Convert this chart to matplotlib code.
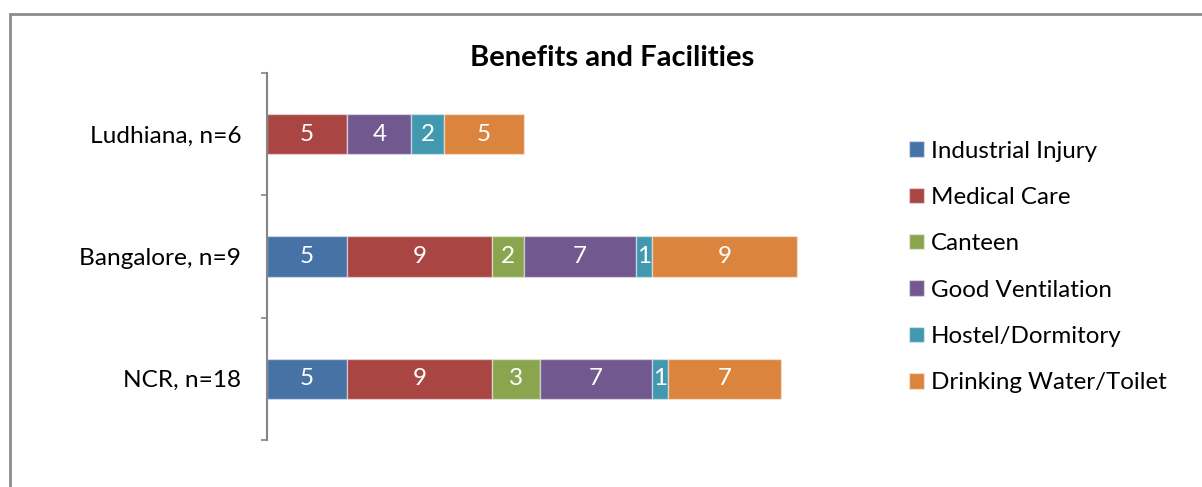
import numpy as np
import matplotlib
matplotlib.use('Agg')
import matplotlib.pyplot as plt
from matplotlib.patches import Rectangle

plt.rcParams['font.family'] = ['Lato', 'DejaVu Sans']

# cities, top to bottom
cities = ['Ludhiana, n=6', 'Bangalore, n=9', 'NCR, n=18']
facilities = ['Industrial Injury', 'Medical Care', 'Canteen',
              'Good Ventilation', 'Hostel/Dormitory', 'Drinking Water/Toilet']
industrial_injury = [0, 5, 5]
medical_care = [5, 9, 9]
canteen = [0, 2, 3]
good_ventilation = [4, 7, 7]
hostel = [2, 1, 1]
drinking_water = [5, 9, 7]
colors = ['#4672A6', '#A94643', '#89A64E', '#71588F', '#4198AF', '#DB843D']

series = [industrial_injury, medical_care, canteen, good_ventilation, hostel, drinking_water]

fig = plt.figure(figsize=(12.02, 4.87), dpi=100)
ax = fig.add_axes([267/1202, 47/487, 642/1202, 367/487])

y = np.arange(len(cities))
left = np.zeros(len(cities))
for vals, name, c in zip(series, facilities, colors):
    vals = np.array(vals, dtype=float)
    bars = ax.barh(y, vals, left=left, height=0.33, color=c, label=name,
                   edgecolor=(1, 1, 1, 0.45), linewidth=1)
    for b, v in zip(bars, vals):
        if v > 0:
            ax.text(b.get_x() + b.get_width()/2, b.get_y() + b.get_height()/2,
                    '%d' % v, color='white', ha='center', va='center', fontsize=17.5)
    left += vals

ax.set_xlim(0, 40)
ax.set_ylim(2.5, -0.5)
ax.set_xticks([])
for s in ['top', 'right', 'bottom']:
    ax.spines[s].set_visible(False)
ax.spines['left'].set_color('#868686')
ax.spines['left'].set_linewidth(1.5)

# ticks between categories, labels at centres
ax.set_yticks([-0.5, 0.5, 1.5, 2.5])
ax.set_yticklabels([])
ax.tick_params(axis='y', which='major', length=4.5, width=1.2, color='#868686')
ax.set_yticks(y, minor=True)
ax.set_yticklabels(cities, minor=True, fontsize=17.6)
ax.tick_params(axis='y', which='minor', length=0, pad=18.5)

fig.text(612/1202, 1 - 58/487, 'Benefits and Facilities', ha='center', va='center',
         fontsize=21, fontweight='bold')

fig.legend(loc='center left', bbox_to_anchor=(909/1202, 1 - 267/487), frameon=False,
           fontsize=17.4, handlelength=0.6, handleheight=0.6, handletextpad=0.3,
           labelspacing=1.05, borderpad=0, borderaxespad=0)

# chart border
fig.patches.append(Rectangle((10/1202, -0.1), 1.2, 1 - 14/487 + 0.1, transform=fig.transFigure,
                             fill=False, edgecolor='#8c8c8c', linewidth=2))

fig.savefig('out.png', dpi=100)
